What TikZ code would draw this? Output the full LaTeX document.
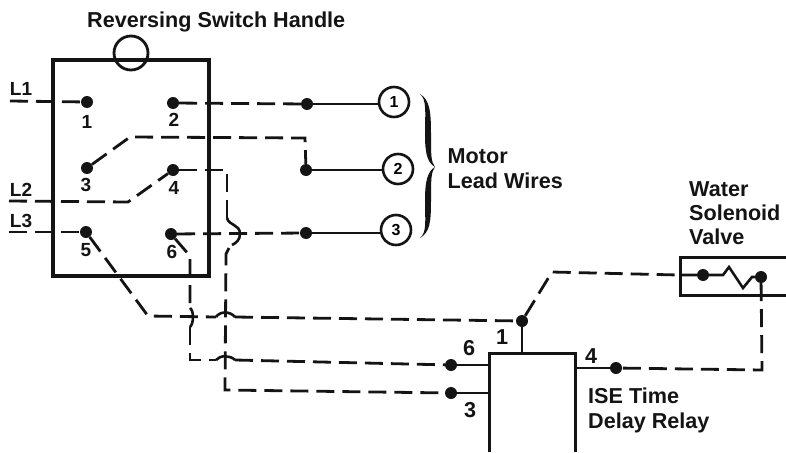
\documentclass[tikz,border=0pt]{standalone}
\usepackage{fontspec}
\setmainfont{Liberation Sans}
\begin{document}
\begin{tikzpicture}[x=1pt,y=-1pt,
  frame/.style={draw=black!92,line width=3.6pt},
  thinbox/.style={draw=black!92,line width=3pt},
  wire/.style={draw=black!92,line width=2.6pt},
  dashwire/.style={draw=black!92,line width=2.8pt,dash pattern=on 18pt off 8pt},
  dotn/.style={circle,fill=black!92,inner sep=0pt,minimum size=12pt},
  lead/.style={circle,draw=black!92,fill=white,line width=2.6pt,minimum size=30pt,inner sep=0pt,font=\bfseries\fontsize{16}{16}\selectfont},
  lab/.style={font=\bfseries\fontsize{21.6}{24}\selectfont,text=black!92,inner sep=0pt,anchor=base west},
  num/.style={font=\bfseries\fontsize{21.6}{24}\selectfont,text=black!92,inner sep=0pt},
  smallnum/.style={font=\bfseries\fontsize{19}{21}\selectfont,text=black!92,inner sep=0pt}]
\useasboundingbox (0,0) rectangle (786,452);
\fill[white] (0,0) rectangle (786,452);
% switch box and handle
\node[frame,rectangle,minimum width=156pt,minimum height=216pt,inner sep=0pt] (box) at (131,168) {};
\node[circle,draw=black!92,line width=2.8pt,minimum size=34pt,inner sep=0pt] (handle) at (131,53) {};
% terminals
\node[dotn] (t1) at (87,102) {};
\node[dotn] (t2) at (173,103) {};
\node[dotn] (t3) at (87,168) {};
\node[dotn] (t4) at (173,170) {};
\node[dotn] (t5) at (86,232) {};
\node[dotn] (t6) at (171,234) {};
\node[smallnum] (n1) at (87,122) {1};
\node[smallnum] (n2) at (174,120) {2};
\node[smallnum] (n3) at (86,185) {3};
\node[smallnum] (n4) at (174,188) {4};
\node[smallnum] (n5) at (86,250) {5};
\node[smallnum] (n6) at (172,252) {6};
\node[smallnum] (l1) at (21,89) {L1};
\node[smallnum] (l2) at (21,190) {L2};
\node[smallnum] (l3) at (21,221) {L3};
\coordinate (l1s) at (10,101);
\coordinate (l2s) at (9,201);
\coordinate (l3s) at (9,232);
% motor leads
\node[lead] (m1) at (394,102) {1};
\node[lead] (m2) at (398,169) {2};
\node[lead] (m3) at (396,230) {3};
\node[dotn] (d1) at (307,104) {};
\node[dotn] (d2) at (306,170) {};
\node[dotn] (d3) at (306,233) {};
\draw[wire] (d1) -- (d1 -| m1.west);
\draw[wire] (d2) -- (d2 -| m2.west);
\draw[wire] (d3) -- (d3 -| m3.west);
\draw[dashwire] (l1s) -- (t1);
\draw[dashwire] (l3s) -- (t5);
\draw[dashwire] (t2) -- (d1);
\draw[dashwire] (t3) -- (130,137) -- (305,138) -- (d2);
\draw[dashwire] (l2s) -- (128,202) -- (t4);
\draw[dashwire] (t6) -- (d3);
% relay
\coordinate (rbl) at (489,452);
\coordinate (rbr) at (575,452);
\draw[thinbox] (rbl) -- (489,353) -- (575,353) -- (rbr);
\coordinate (r1) at (522,353);
\coordinate (r6) at (489,365);
\coordinate (r3) at (489,393);
\coordinate (r4) at (575,368);
\node[dotn] (p1) at (522,321) {};
\node[dotn] (p6) at (451,365) {};
\node[dotn] (p3) at (451,393) {};
\node[dotn] (p4) at (616,368) {};
\draw[wire] (p1) -- (r1);
\draw[wire] (p6) -- (r6);
\draw[wire] (p3) -- (r3);
\draw[wire] (p4) -- (r4);
% wire from 4 to relay 3
\draw[dashwire] (t4) -- (227,170) -- (227,218);
\draw[wire] (227,218) .. controls (229,226) and (240,224) .. (240,234) .. controls (240,240) and (236,243) .. (232,245);
\draw[dashwire] (229,248) -- (226,254) -- (225,390) -- (p3);
% wire from 6 to relay 6
\draw[dashwire] (t6) -- (190,256) -- (190,308);
\draw[wire] (190,308) .. controls (194,311) and (194,323) .. (190,327);
\draw[dashwire] (190,327) -- (190,360) -- (216,360);
\draw[wire] (216,360) .. controls (220,355) and (230,355) .. (235,360);
\draw[dashwire] (235,360) -- (p6);
% wire from 5 to relay 1
\draw[dashwire] (t5) -- (148,316) -- (216,317);
\draw[wire] (216,317) .. controls (220,311) and (230,311) .. (235,317);
\draw[dashwire] (235,317) -- (p1);
% water solenoid valve
\coordinate (vtr) at (786,257);
\coordinate (vbr) at (786,295);
\draw[thinbox] (vtr) -- (680,257) -- (680,295) -- (vbr);
\node[dotn] (v1) at (703,275) {};
\node[dotn] (v2) at (761,277) {};
\draw[wire] (680,275) -- (v1) -- (723,275) -- (729,267) -- (743,288) -- (752,277) -- (v2);
\draw[dashwire] (p1) -- (552,272) -- (678,275);
\draw[dashwire] (v2) -- (762,370) -- (p4);
% relay pin numbers
\node[num] (k1) at (502,337) {1};
\node[num] (k6) at (469,348) {6};
\node[num] (k3) at (470,410) {3};
\node[num] (k4) at (591,356) {4};
% brace
\fill[black!92] (420,94) .. controls (427,100) and (425,112) .. (425,135)
  .. controls (425,155) and (428,163) .. (435,167)
  .. controls (428,171) and (425,180) .. (425,200)
  .. controls (425,222) and (427,232) .. (420,238)
  .. controls (430,232) and (431,222) .. (431,200)
  .. controls (431,180) and (431,172) .. (435,167)
  .. controls (431,162) and (431,155) .. (431,135)
  .. controls (431,112) and (430,100) .. (420,94) -- cycle;
% texts
\node[lab] (title) at (87,27.5) {Reversing Switch Handle};
\node[lab] (mot) at (447.5,163.5) {Motor};
\node[lab] (lea) at (447.5,188.5) {Lead Wires};
\node[lab] (wat) at (689,196) {Water};
\node[lab] (sol) at (689,220) {Solenoid};
\node[lab] (val) at (689,244) {Valve};
\node[lab] (ise) at (588,403.5) {ISE Time};
\node[lab] (del) at (588,428.5) {Delay Relay};
\end{tikzpicture}
\end{document}
